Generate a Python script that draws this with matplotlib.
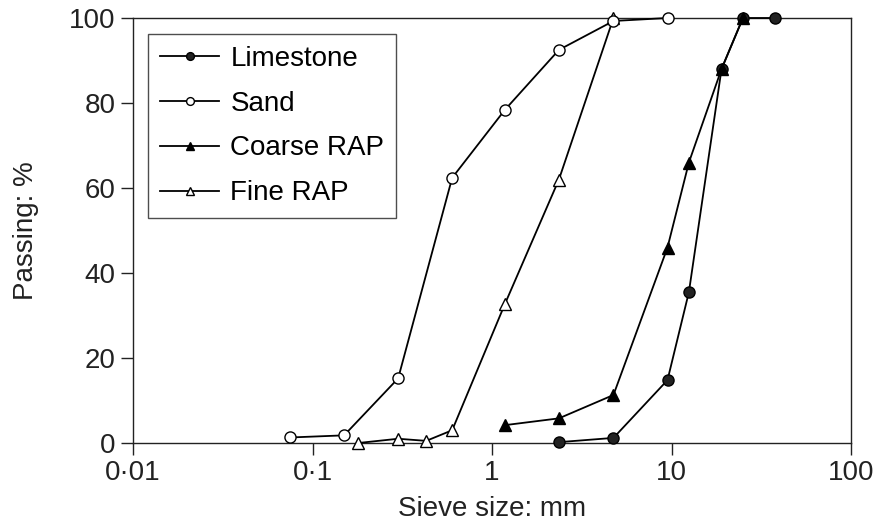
import numpy as np
import matplotlib
matplotlib.use("Agg")
from matplotlib import pyplot as plt
from matplotlib.ticker import FixedLocator, FixedFormatter

# Grading curves (sieve size in mm, passing in %)
lime_x = [2.36, 4.75, 9.5, 12.5, 19.0, 25.0, 37.5]
lime_y = [0.2, 1.2, 14.8, 35.5, 88.0, 100.0, 100.0]

sand_x = [0.075, 0.15, 0.3, 0.6, 1.18, 2.36, 4.75, 9.5]
sand_y = [1.3, 1.8, 15.2, 62.4, 78.4, 92.5, 99.3, 100.0]

coarse_x = [1.18, 2.36, 4.75, 9.5, 12.5, 19.0, 25.0]
coarse_y = [4.2, 5.8, 11.3, 46.0, 66.0, 88.0, 100.0]

fine_x = [0.18, 0.3, 0.43, 0.6, 1.18, 2.36, 4.75]
fine_y = [0.0, 1.0, 0.5, 3.0, 32.7, 62.0, 100.0]

xticks = [0.01, 0.1, 1, 10, 100]
xlabels = ['0\u00b701', '0\u00b71', '1', '10', '100']
yticks = [0, 20, 40, 60, 80, 100]

plt.rcParams['font.family'] = ['Liberation Sans', 'DejaVu Sans']
ink = '#222222'

fig = plt.figure(figsize=(8.81, 5.25), dpi=100)
ax = fig.add_axes([133/881, 1 - 443/525, (851-133)/881, (443-18)/525])

lw = 1.3
ms = 8
ax.plot(lime_x, lime_y, '-o', color='black', lw=lw, ms=ms, mfc=ink, mec='black',
        label='Limestone', zorder=3)
ax.plot(sand_x, sand_y, '-o', color='black', lw=lw, ms=ms, mfc='white', mec='black',
        label='Sand', zorder=4)
ax.plot(coarse_x, coarse_y, '-^', color='black', lw=lw, ms=ms+1, mfc='black', mec='black',
        label='Coarse RAP', zorder=3)
ax.plot(fine_x, fine_y, '-^', color='black', lw=lw, ms=ms+1, mfc='white', mec='black',
        label='Fine RAP', zorder=3)

ax.set_xscale('log')
ax.set_xlim(0.01, 100)
ax.set_ylim(0, 100)
ax.xaxis.set_major_locator(FixedLocator(xticks))
ax.xaxis.set_major_formatter(FixedFormatter(xlabels))
ax.xaxis.set_minor_locator(FixedLocator([]))
ax.set_yticks(yticks)

ax.tick_params(axis='both', direction='out', length=8.5, width=1.0, labelsize=20,
               colors=ink, pad=4)
for s in ax.spines.values():
    s.set_linewidth(1.0)
    s.set_color(ink)
for ln in ax.lines:
    ln.set_clip_on(False)

ax.set_xlabel('Sieve size: mm', fontsize=20, color=ink, labelpad=7)
ax.set_ylabel('Passing: %', fontsize=20, color=ink, labelpad=22)

leg = ax.legend(loc='upper left', bbox_to_anchor=(15/718, 1 - 16/425),
                prop={'size': 20}, frameon=True, fancybox=False, edgecolor=ink,
                handlelength=2.15, handletextpad=0.4, borderpad=0.42,
                labelspacing=0.68, markerscale=0.7, borderaxespad=0)
leg.get_frame().set_linewidth(1.0)

plt.savefig('out.png', dpi=100)
